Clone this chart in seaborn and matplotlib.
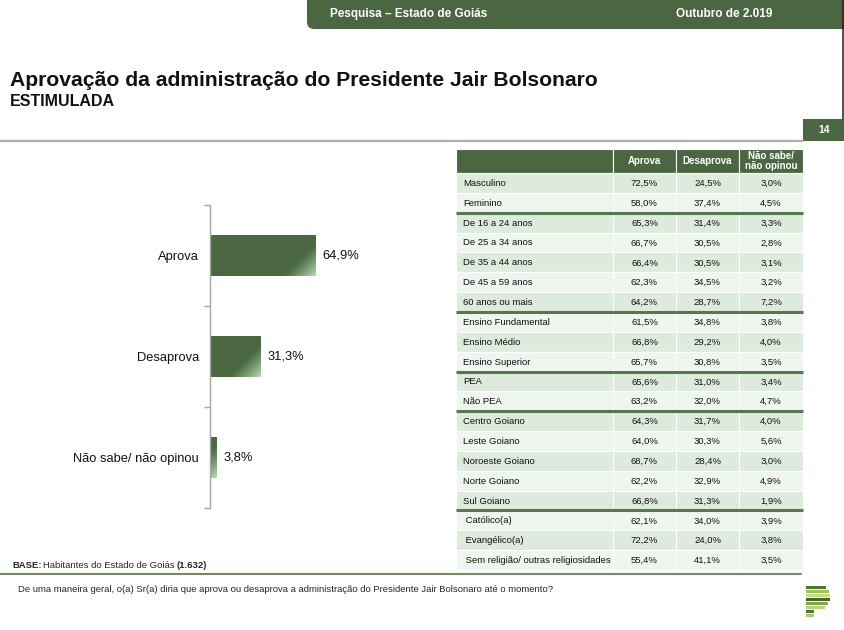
import numpy as np
import pandas as pd
import matplotlib.pyplot as plt
import matplotlib.colors as mcolors
from matplotlib.patches import Rectangle, FancyBboxPatch
from matplotlib.ticker import FixedLocator
import seaborn as sns

# dados do gráfico principal
categorias = ['Aprova', 'Desaprova', 'Não sabe/ não opinou']
percentuais = [64.9, 31.3, 3.8]

# dados da tabela (segmentos)
linhas = ['Masculino', 'Feminino', 'De 16 a 24 anos', 'De 25 a 34 anos', 'De 35 a 44 anos',
          'De 45 a 59 anos', '60 anos ou mais', 'Ensino Fundamental', 'Ensino Médio',
          'Ensino Superior', 'PEA', 'Não PEA', 'Centro Goiano', 'Leste Goiano',
          'Noroeste Goiano', 'Norte Goiano', 'Sul Goiano', ' Católico(a)', ' Evangélico(a)',
          ' Sem religião/ outras religiosidades']
aprova = [72.5, 58.0, 65.3, 66.7, 66.4, 62.3, 64.2, 61.5, 66.8, 65.7,
          65.6, 63.2, 64.3, 64.0, 68.7, 62.2, 66.8, 62.1, 72.2, 55.4]
desaprova = [24.5, 37.4, 31.4, 30.5, 30.5, 34.5, 28.7, 34.8, 29.2, 30.8,
             31.0, 32.0, 31.7, 30.3, 28.4, 32.9, 31.3, 34.0, 24.0, 41.1]
nao_sabe = [3.0, 4.5, 3.3, 2.8, 3.1, 3.2, 7.2, 3.8, 4.0, 3.5,
            3.4, 4.7, 4.0, 5.6, 3.0, 4.9, 1.9, 3.9, 3.8, 3.5]
grupos = [2, 5, 3, 2, 5, 3]
colunas = ['Aprova', 'Desaprova', 'Não sabe/\nnão opinou']

VERDE = '#4a6741'
W, H = 845, 630

sns.set_style('white')
plt.rcParams['font.family'] = ['Liberation Sans', 'DejaVu Sans']


def fmt(v):
    return f'{v:.1f}%'.replace('.', ',')


fig = plt.figure(figsize=(W / 100, H / 100), dpi=100)

# camada de fundo em coordenadas de pixel
bg = fig.add_axes([0, 0, 1, 1])
bg.set_xlim(0, W)
bg.set_ylim(H, 0)
bg.axis('off')

# faixa do cabeçalho
bg.add_patch(FancyBboxPatch((307, -30), 600, 59, boxstyle='round,pad=0,rounding_size=7',
                            fc=VERDE, ec='none'))
bg.text(330, 14, 'Pesquisa – Estado de Goiás', color='white', fontsize=8.5,
        fontweight='bold', va='center')
bg.text(676, 14, 'Outubro de 2.019', color='white', fontsize=8.5,
        fontweight='bold', va='center')
bg.plot([843.5, 843.5], [0, 119], color='#222222', lw=1.1)

# títulos
bg.text(10, 80, 'Aprovação da administração do Presidente Jair Bolsonaro',
        fontsize=15.2, fontweight='bold', va='center', color='#111111')
bg.text(10, 102, 'ESTIMULADA', fontsize=11.5, fontweight='bold', va='center', color='#111111')

# número da página e linha
bg.add_patch(Rectangle((803, 119), 42, 22, fc=VERDE, ec='none'))
bg.text(824, 130, '14', color='white', fontsize=7.5, fontweight='bold',
        ha='center', va='center')
bg.plot([0, 803], [141, 141], color='#a9b5a0', lw=1.6)

# tabela
xs = [456, 613, 676, 739, 803]
y_cab, y0, alt = 149, 173, (570 - 173) / len(linhas)
for j in range(4):
    bg.add_patch(Rectangle((xs[j], y_cab), xs[j + 1] - xs[j], y0 - y_cab,
                           fc=VERDE, ec='white', lw=0.8))
for j, c in enumerate(colunas):
    bg.text((xs[j + 1] + xs[j + 2]) / 2, (y_cab + y0) / 2, c, color='white',
            fontsize=7, fontweight='bold', ha='center', va='center', linespacing=1.05)

for i, rotulo in enumerate(linhas):
    yt = y0 + i * alt
    cor = '#dcebdc' if i % 2 == 0 else '#eef6ef'
    for j in range(4):
        bg.add_patch(Rectangle((xs[j], yt), xs[j + 1] - xs[j], alt, fc=cor, ec='white', lw=0.8))
    yc = yt + alt / 2 + 0.5
    bg.text(xs[0] + 7, yc, rotulo, fontsize=6.8, va='center', color='#111111')
    for j, v in enumerate([aprova[i], desaprova[i], nao_sabe[i]]):
        bg.text((xs[j + 1] + xs[j + 2]) / 2, yc, fmt(v), fontsize=6.8,
                ha='center', va='center', color='#111111')

acum = 0
for g in grupos[:-1]:
    acum += g
    ys = y0 + acum * alt
    bg.plot([xs[0], xs[-1]], [ys, ys], color='#587650', lw=2.2, solid_capstyle='butt')

# rodapé
bg.plot([0, 801], [574, 574], color='#6f8c62', lw=1.5)
bg.text(12, 565, 'BASE:', fontsize=6.8, fontweight='bold', va='center')
bg.text(43, 565, 'Habitantes do Estado de Goiás', fontsize=6.8, va='center')
bg.text(177, 565, '(1.632)', fontsize=6.8, fontweight='bold', va='center')
bg.text(18, 589, 'De uma maneira geral, o(a) Sr(a) diria que aprova ou desaprova a '
        'administração do Presidente Jair Bolsonaro até o momento?', fontsize=6.8, va='center')

# logotipo
listras = [(586, 826, '#4b7a2e'), (590, 829, '#9cc45a'), (594, 830, '#c5dc78'),
           (598, 830, '#3e6a26'), (602, 828, '#7ea848'), (606, 825, '#b8d47a'),
           (610, 814, '#4b7a2e'), (614, 814, '#a8c870')]
for yl, xe, c in listras:
    bg.add_patch(Rectangle((806, yl), xe - 806, 3.3, fc=c, ec='none'))

# gráfico de barras
ax = fig.add_axes([210 / W, 1 - 508 / H, 200 / W, 303 / H])
df = pd.DataFrame({'categoria': categorias, 'pct': percentuais})
sns.barplot(data=df, x='pct', y='categoria', orient='h', color=VERDE,
            saturation=1, width=0.4, ax=ax)

xmax = 123.5
px_unid = 200 / xmax
escuro = np.array(mcolors.to_rgb(VERDE))
claro = np.array(mcolors.to_rgb('#b4dcae'))
for barra in list(ax.patches):
    bx, by = barra.get_x(), barra.get_y()
    bw, bh = barra.get_width(), barra.get_height()
    wp = max(int(round(bw * px_unid)), 1)
    hp = int(round(bh * 101))
    xx = np.arange(wp)[None, :]
    yy = np.arange(hp)[:, None]
    d = (wp - 1 - xx) + (hp - 1 - yy)
    a = np.clip(1 - d / 32, 0, 1) ** 1.2
    img = escuro * (1 - a[..., None]) + claro * a[..., None]
    im = ax.imshow(img, extent=(bx, bx + bw, by + bh, by), origin='upper',
                   aspect='auto', interpolation='bilinear', zorder=barra.get_zorder() + 0.1)
    im.set_clip_path(barra)

for i, v in enumerate(percentuais):
    ax.text(v + 4.3, i, fmt(v), va='center', ha='left', fontsize=9.3, color='#111111')

ax.set_xlim(0, xmax)
ax.set_ylim(2.5, -0.5)
ax.set_xlabel('')
ax.set_ylabel('')
ax.set_xticks([])
ax.tick_params(axis='y', which='major', length=0, pad=8, labelsize=9.3, labelcolor='#111111')
ax.yaxis.set_minor_locator(FixedLocator([-0.5, 0.5, 1.5, 2.5]))
ax.tick_params(axis='y', which='minor', length=4, width=1, color='#a6a6a6', left=True)
for s in ['top', 'right', 'bottom']:
    ax.spines[s].set_visible(False)
ax.spines['left'].set_color('#a6a6a6')
ax.spines['left'].set_linewidth(1)
ax.patch.set_alpha(0)

plt.savefig('out.png', dpi=100)
